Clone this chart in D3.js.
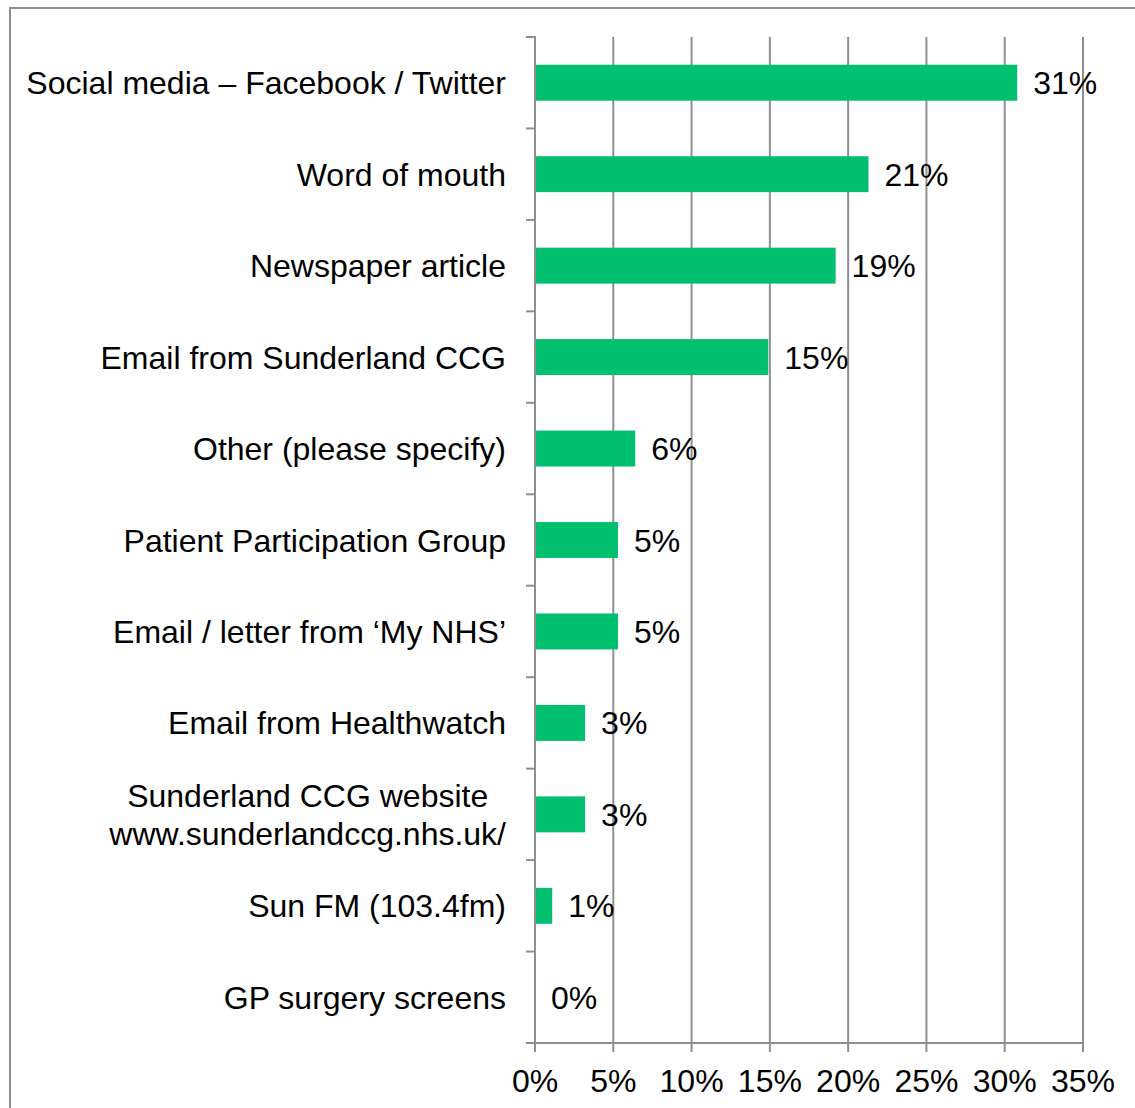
<!DOCTYPE html>
<html><head><meta charset="utf-8">
<script src="https://cdn.jsdelivr.net/npm/d3@7"></script>
<style>body{margin:0;background:#fff}svg{display:block}text{font-family:"Liberation Sans",Arial,sans-serif;fill:#000}</style>
</head><body>
<svg id="c" width="1135" height="1108"></svg>
<script>
const categories = ["Social media \u2013 Facebook / Twitter","Word of mouth","Newspaper article","Email from Sunderland CCG","Other (please specify)","Patient Participation Group","Email / letter from \u2018My NHS\u2019","Email from Healthwatch","Sunderland CCG website  \nwww.sunderlandccg.nhs.uk/","Sun FM (103.4fm)","GP surgery screens"];
const values = [30.8, 21.3, 19.2, 14.9, 6.4, 5.3, 5.3, 3.2, 3.2, 1.1, 0];
const valueLabels = ["31%","21%","19%","15%","6%","5%","5%","3%","3%","1%","0%"];
const tickValues = [0,5,10,15,20,25,30,35];
const tickLabels = ["0%","5%","10%","15%","20%","25%","30%","35%"];

const svg = d3.select("#c");
const fs = 32;
const grey = "#8f8f8f";
// outer frame
svg.append("rect").attr("x",10).attr("y",8).attr("width",1140).attr("height",1120)
  .attr("fill","none").attr("stroke",grey).attr("stroke-width",2);

const x = d3.scaleLinear().domain([0,35]).range([535,1083]);
const y = d3.scaleBand().domain(categories).range([37,1043]).paddingInner(0.607).paddingOuter(0.3035);
const step = y.step();

// gridlines
svg.append("g").selectAll("line").data(tickValues).join("line")
  .attr("x1",d=>x(d)).attr("x2",d=>x(d)).attr("y1",37).attr("y2",1052)
  .attr("stroke",grey).attr("stroke-width",2);
// x axis line
svg.append("line").attr("x1",526).attr("x2",x(35)+1).attr("y1",1043).attr("y2",1043).attr("stroke",grey).attr("stroke-width",2);
// y axis line
svg.append("line").attr("x1",535).attr("x2",535).attr("y1",36).attr("y2",1044).attr("stroke",grey).attr("stroke-width",2);
// y ticks at category boundaries
const bounds = d3.range(categories.length+1).map(i=>37+i*step);
svg.append("g").selectAll("line").data(bounds).join("line")
  .attr("x1",526).attr("x2",535).attr("y1",d=>d).attr("y2",d=>d).attr("stroke",grey).attr("stroke-width",2);

// bars
svg.append("g").selectAll("rect").data(categories).join("rect")
  .attr("x",x(0)+1).attr("y",d=>y(d)).attr("height",y.bandwidth())
  .attr("width",(d,i)=>Math.max(0,x(values[i])-x(0)-1)).attr("fill","#00BF6F");

// value labels
svg.append("g").selectAll("text").data(categories).join("text")
  .attr("x",(d,i)=>x(values[i])+16).attr("y",d=>y(d)+y.bandwidth()/2).attr("dy","0.36em")
  .attr("font-size",fs).text((d,i)=>valueLabels[i]);

// category labels
const cl = svg.append("g").selectAll("text").data(categories).join("text")
  .attr("x",506).attr("y",d=>y(d)+y.bandwidth()/2).attr("text-anchor","end")
  .attr("font-size",fs).style("white-space","pre");
cl.each(function(d){
  const lines = d.split("\n");
  const t = d3.select(this);
  lines.forEach((ln,j)=>{
    t.append("tspan").attr("x",506).attr("dy", j===0 ? (0.36 - (lines.length-1)*0.6)+"em" : "1.2em").text(ln);
  });
});

// x tick labels
svg.append("g").selectAll("text").data(tickValues).join("text")
  .attr("x",d=>x(d)).attr("y",1092).attr("text-anchor","middle").attr("font-size",fs)
  .text((d,i)=>tickLabels[i]);
</script>
</body></html>
